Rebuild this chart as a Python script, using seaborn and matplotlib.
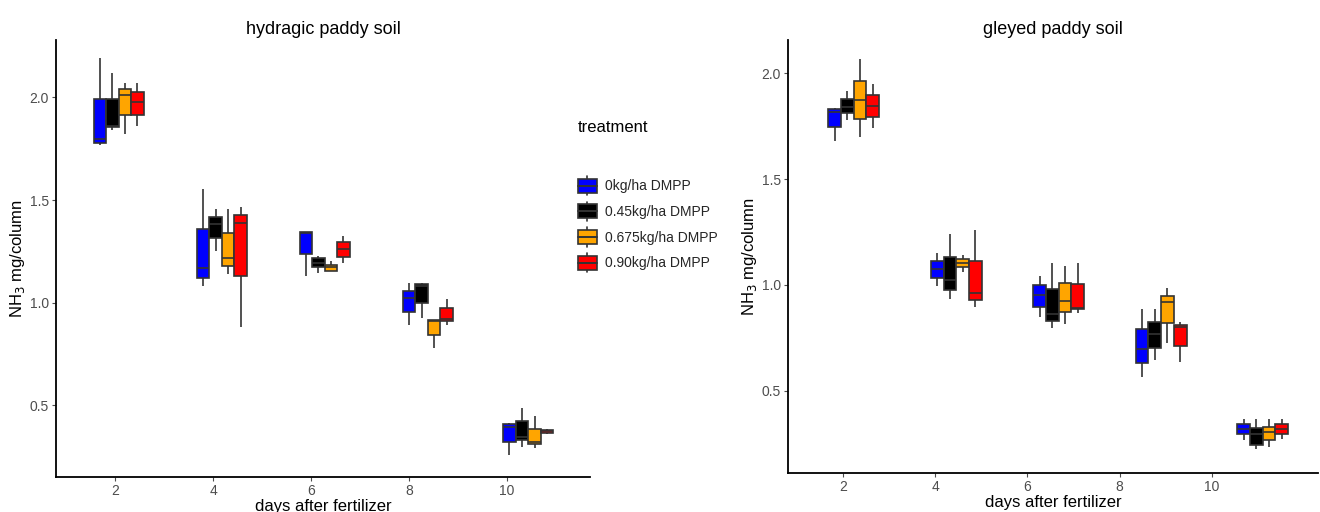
import numpy as np
import pandas as pd
import matplotlib
matplotlib.use('Agg')
import matplotlib.pyplot as plt
import seaborn as sns
from matplotlib.patches import Patch, Rectangle
from matplotlib.lines import Line2D
from matplotlib.legend_handler import HandlerBase

# treatments and their fill colours
treatments = ['0kg/ha DMPP', '0.45kg/ha DMPP', '0.675kg/ha DMPP', '0.90kg/ha DMPP']
fill_colors = ['#0000FF', '#000000', '#FFA500', '#FF0000']
day_ticks = [2, 4, 6, 8, 10]

# sampling day of each box group as it lies on the x scale
hyd_days = [2.07, 4.18, 6.28, 8.39, 10.44]
gley_days = [2.24, 4.46, 6.68, 8.90, 11.10]

# hydragic paddy soil, per day: [min, q1, median, q3, max]
hyd_0 = [[1.77, 1.78, 1.80, 1.994, 2.19],
         [1.081, 1.122, 1.168, 1.36, 1.553],
         [1.132, 1.236, 1.338, 1.343, 1.343],
         [0.891, 0.953, 1.021, 1.059, 1.098],
         [0.257, 0.322, 0.395, 0.407, 0.416]]
hyd_045 = [[1.84, 1.854, 1.863, 1.994, 2.12],
           [1.252, 1.314, 1.384, 1.42, 1.457],
           [1.143, 1.173, 1.195, 1.217, 1.228],
           [0.924, 1.0, 1.082, 1.09, 1.098],
           [0.298, 0.33, 0.346, 0.424, 0.488]]
hyd_0675 = [[1.82, 1.916, 2.01, 2.04, 2.07],
            [1.14, 1.179, 1.217, 1.34, 1.457],
            [1.155, 1.155, 1.173, 1.184, 1.205],
            [0.78, 0.842, 0.912, 0.915, 0.915],
            [0.29, 0.311, 0.322, 0.387, 0.449]]
hyd_090 = [[1.86, 1.916, 1.98, 2.025, 2.07],
           [0.883, 1.132, 1.39, 1.428, 1.465],
           [1.192, 1.221, 1.26, 1.295, 1.327],
           [0.891, 0.91, 0.92, 0.976, 1.018],
           [0.362, 0.366, 0.374, 0.382, 0.386]]

# gleyed paddy soil, per day: [min, q1, median, q3, max]
gley_0 = [[1.68, 1.748, 1.816, 1.83, 1.838],
          [0.995, 1.032, 1.076, 1.113, 1.153],
          [0.847, 0.898, 0.953, 1.0, 1.042],
          [0.567, 0.63, 0.696, 0.792, 0.885],
          [0.268, 0.295, 0.318, 0.343, 0.367]]
gley_045 = [[1.779, 1.811, 1.842, 1.879, 1.916],
            [0.934, 0.976, 1.024, 1.134, 1.241],
            [0.796, 0.83, 0.862, 0.981, 1.103],
            [0.646, 0.704, 0.767, 0.827, 0.885],
            [0.224, 0.244, 0.295, 0.326, 0.367]]
gley_0675 = [[1.70, 1.784, 1.874, 1.965, 2.066],
             [1.063, 1.084, 1.103, 1.123, 1.142],
             [0.816, 0.871, 0.924, 1.011, 1.091],
             [0.725, 0.822, 0.918, 0.95, 0.984],
             [0.233, 0.268, 0.307, 0.331, 0.367]]
gley_090 = [[1.74, 1.792, 1.847, 1.897, 1.948],
            [0.895, 0.929, 0.964, 1.113, 1.26],
            [0.866, 0.885, 0.893, 1.003, 1.103],
            [0.635, 0.713, 0.803, 0.811, 0.827],
            [0.271, 0.296, 0.318, 0.343, 0.367]]


def to_frame(days, groups):
    rows = []
    for trt, per_day in zip(treatments, groups):
        for d, vals in zip(days, per_day):
            for v in vals:
                rows.append({'day': d, 'treatment': trt, 'NH3': v})
    return pd.DataFrame(rows)


class BoxKeyHandler(HandlerBase):
    # small ggplot-like boxplot key: whisker, box and median line
    def create_artists(self, legend, orig_handle, xdescent, ydescent,
                       width, height, fontsize, trans):
        x0, y0 = -xdescent, -ydescent
        cx = x0 + width / 2
        box_h = height * 0.72
        by = y0 + (height - box_h) / 2
        whisk = Line2D([cx, cx], [y0, y0 + height], color='#333333', lw=1.2,
                       transform=trans)
        box = Rectangle((x0 + width * 0.05, by), width * 0.9, box_h,
                        facecolor=orig_handle.get_facecolor(), edgecolor='#333333',
                        lw=1.2, transform=trans)
        med = Line2D([x0 + width * 0.05, x0 + width * 0.95], [y0 + height / 2] * 2,
                     color='#333333', lw=1.4, transform=trans)
        return [whisk, box, med]


hyd_df = to_frame(hyd_days, [hyd_0, hyd_045, hyd_0675, hyd_090])
gley_df = to_frame(gley_days, [gley_0, gley_045, gley_0675, gley_090])

sns.set_theme(style='white')
plt.rcParams['font.family'] = ['Liberation Sans', 'DejaVu Sans']

fig = plt.figure(figsize=(13.2, 5.12), dpi=100)
ax1 = fig.add_axes([0.0424, 0.0684, 0.4045, 0.8535])
ax2 = fig.add_axes([0.597, 0.0762, 0.4015, 0.8457])

panels = [
    (ax1, hyd_df, 'hydragic paddy soil', (0.79, 11.7), (0.151, 2.28)),
    (ax2, gley_df, 'gleyed paddy soil', (0.815, 12.3), (0.112, 2.157)),
]

for ax, df, title, xlim, ylim in panels:
    sns.boxplot(data=df, x='day', y='NH3', hue='treatment', hue_order=treatments,
                palette=fill_colors, native_scale=True, width=0.5, gap=0,
                whis=(0, 100), linecolor='#333333', linewidth=1.2,
                saturation=1, legend=False, capprops={'linewidth': 0}, ax=ax)
    ax.set_xlim(*xlim)
    ax.set_ylim(*ylim)
    ax.set_xticks(day_ticks)
    ax.set_xticklabels([str(d) for d in day_ticks])
    ax.set_yticks([0.5, 1.0, 1.5, 2.0])
    ax.set_yticklabels(['0.5', '1.0', '1.5', '2.0'])
    ax.tick_params(axis='both', colors='#4d4d4d', labelsize=10, length=3,
                   width=0.8, direction='out', bottom=True, left=True, pad=2)
    ax.tick_params(axis='both', labelcolor='#4d4d4d')
    for side in ['top', 'right']:
        ax.spines[side].set_visible(False)
    for side in ['left', 'bottom']:
        ax.spines[side].set_color('black')
        ax.spines[side].set_linewidth(1.3)
    ax.set_title(title, fontsize=13, color='black', pad=4)
    ax.set_xlabel('days after fertilizer', fontsize=12, color='black', labelpad=1)
    ax.set_ylabel('NH$_3$ mg/column', fontsize=12, color='black', labelpad=2)

fig.text(578 / 1320, 1 - 127 / 512, 'treatment', fontsize=12, color='black',
         ha='left', va='center')
handles = [Patch(facecolor=c, edgecolor='#333333', linewidth=1.2) for c in fill_colors]
leg = fig.legend(handles, treatments, loc='upper left',
                 bbox_to_anchor=(577 / 1320, 1 - 176 / 512), frameon=False, fontsize=10,
                 handlelength=1.5, handleheight=1.75, borderpad=0, borderaxespad=0,
                 labelspacing=0.47, handletextpad=0.5,
                 handler_map={Patch: BoxKeyHandler()})

fig.savefig('out.png', dpi=100)
